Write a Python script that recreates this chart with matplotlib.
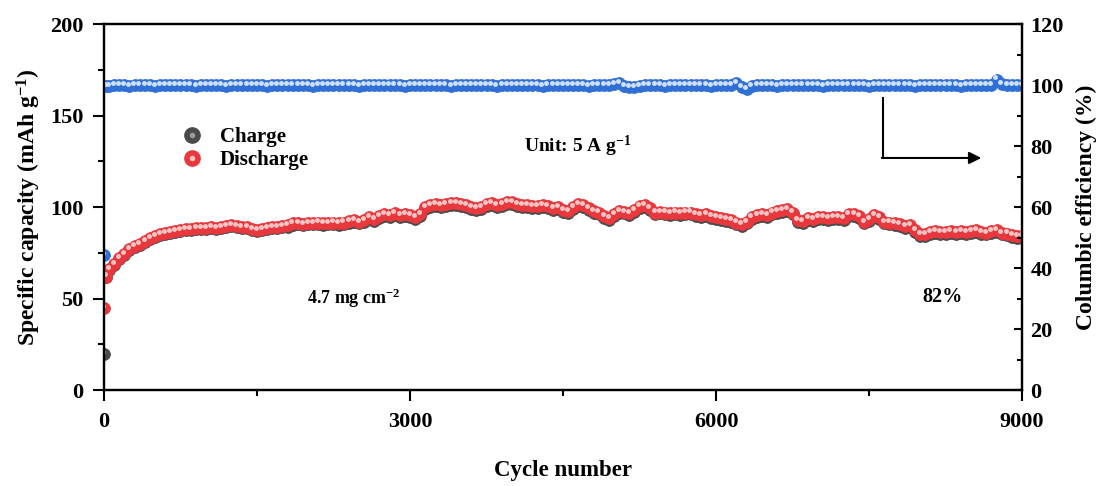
import numpy as np
import matplotlib
matplotlib.use("Agg")
import matplotlib.pyplot as plt
from matplotlib.lines import Line2D
from matplotlib.legend_handler import HandlerTuple
from matplotlib.ticker import MultipleLocator
from matplotlib.transforms import ScaledTranslation

plt.rcParams['font.family'] = ['Liberation Serif', 'DejaVu Serif']
plt.rcParams['font.weight'] = 'bold'
plt.rcParams['mathtext.fontset'] = 'custom'
plt.rcParams['mathtext.rm'] = 'Liberation Serif:bold'
plt.rcParams['mathtext.it'] = 'Liberation Serif:bold'
plt.rcParams['mathtext.bf'] = 'Liberation Serif:bold'

#%%
# data (first two cycles, then every 50 cycles)
first_cycles = [1, 20]
cycles = np.concatenate([first_cycles, np.arange(50, 9001, 50)])

discharge = [44.8, 62.0,
    66.0, 69.0, 72.0, 74.5, 77.0, 78.5, 80.0, 81.5, 83.0, 84.0,
    85.0, 86.0, 86.5, 87.0, 87.5, 88.0, 88.0, 88.5, 88.5, 88.5,
    89.0, 88.5, 89.0, 89.5, 90.0, 89.5, 89.0, 89.0, 88.0, 87.5,
    88.0, 88.5, 89.0, 89.0, 89.5, 90.0, 91.0, 91.0, 90.5, 91.0,
    91.0, 91.5, 91.0, 91.0, 91.5, 91.0, 91.5, 92.5, 93.0, 92.0,
    93.0, 94.5, 93.5, 95.0, 96.0, 95.5, 96.5, 95.5, 96.0, 95.5,
    94.5, 96.0, 100.0, 101.0, 101.5, 101.0, 101.5, 102.0, 102.0, 101.5,
    101.0, 100.0, 99.5, 100.0, 101.5, 102.0, 101.0, 101.5, 102.5, 102.5,
    101.5, 101.0, 101.0, 100.5, 100.5, 101.0, 100.5, 99.5, 100.0, 98.5,
    98.0, 100.0, 101.5, 101.0, 99.5, 98.0, 97.0, 95.0, 94.0, 96.0,
    98.0, 97.5, 96.5, 98.5, 100.5, 101.0, 99.5, 97.0, 97.5, 97.0,
    96.5, 97.0, 96.5, 97.0, 97.0, 96.0, 95.5, 96.0, 95.0, 94.5,
    94.0, 93.5, 93.0, 91.5, 90.5, 92.0, 94.5, 95.5, 96.0, 95.5,
    97.0, 98.0, 98.5, 99.0, 97.0, 93.0, 92.5, 94.0, 93.5, 94.5,
    94.5, 94.0, 94.5, 94.5, 94.0, 96.0, 96.0, 95.0, 92.0, 93.5,
    95.5, 94.5, 92.0, 91.5, 91.0, 90.5, 89.5, 90.0, 87.5, 85.0,
    85.0, 86.5, 87.0, 86.5, 86.5, 87.0, 86.5, 87.0, 86.5, 87.0,
    87.5, 86.5, 86.0, 87.0, 87.5, 86.0, 85.5, 84.5, 84.0, 84.0]

charge = [19.5, 61.5,
    65.5, 68.5, 71.5, 74.0, 76.5, 78.0, 79.5, 81.0, 82.5, 83.5,
    84.5, 85.5, 86.0, 86.5, 87.0, 87.5, 87.5, 88.0, 88.0, 88.0,
    88.5, 88.0, 88.5, 89.0, 89.5, 89.0, 88.5, 88.5, 87.5, 87.0,
    87.5, 88.0, 88.5, 88.5, 89.0, 89.0, 90.0, 90.5, 90.0, 90.5,
    90.5, 90.5, 90.0, 90.5, 90.5, 90.0, 90.5, 91.5, 92.0, 91.0,
    92.0, 93.5, 92.5, 94.0, 95.0, 94.5, 95.5, 94.5, 95.0, 94.5,
    93.5, 95.0, 99.0, 100.0, 100.5, 100.0, 100.5, 101.0, 101.0, 100.5,
    100.0, 99.0, 98.5, 99.0, 100.5, 101.0, 100.0, 100.5, 101.5, 101.5,
    100.5, 100.0, 100.0, 99.5, 99.5, 100.0, 99.5, 98.5, 99.0, 97.5,
    97.0, 99.0, 100.5, 100.0, 98.5, 97.0, 96.0, 94.0, 93.0, 95.0,
    97.0, 96.5, 95.5, 97.5, 99.5, 100.0, 98.5, 96.0, 96.5, 96.0,
    95.5, 96.0, 95.5, 96.0, 96.0, 95.0, 94.5, 95.0, 94.0, 93.5,
    93.0, 92.5, 92.0, 90.5, 89.5, 91.0, 93.5, 94.5, 95.0, 94.5,
    96.0, 97.0, 97.5, 98.0, 96.0, 92.0, 91.5, 93.0, 92.5, 93.5,
    93.5, 93.0, 93.5, 93.5, 93.0, 95.0, 95.0, 94.0, 91.0, 92.5,
    94.5, 93.5, 91.0, 90.5, 90.0, 89.5, 88.5, 89.0, 86.5, 84.0,
    84.0, 85.5, 86.0, 85.5, 85.5, 86.0, 85.5, 86.0, 85.5, 86.0,
    86.5, 85.5, 85.0, 86.0, 86.5, 85.0, 84.5, 83.5, 83.0, 83.0]

efficiency = [44.2, 99.6,
    99.8, 100.0, 99.9, 100.1, 99.8, 100.0, 100.1, 99.9, 100.0, 99.8,
    100.0, 100.1, 99.9, 100.0, 99.9, 100.1, 100.0, 99.8, 100.0, 100.1,
    99.9, 100.0, 100.0, 99.8, 100.1, 100.0, 99.9, 100.0, 100.1, 99.9,
    100.0, 99.8, 100.0, 100.1, 99.9, 100.0, 100.0, 99.9, 100.1, 100.0,
    99.8, 100.0, 100.1, 99.9, 100.0, 100.0, 99.9, 100.1, 100.0, 99.8,
    100.0, 100.1, 99.9, 100.0, 100.0, 99.9, 100.1, 100.0, 99.8, 100.0,
    100.1, 99.9, 100.0, 100.0, 99.9, 100.1, 100.0, 99.8, 100.0, 100.1,
    99.9, 100.0, 100.0, 99.9, 100.1, 100.0, 99.8, 100.0, 100.1, 99.9,
    100.0, 100.0, 99.9, 100.1, 100.0, 99.8, 100.0, 100.1, 99.9, 100.0,
    100.0, 99.9, 100.1, 100.0, 99.8, 100.0, 100.1, 99.9, 100.0, 100.3,
    100.6, 99.6, 99.2, 99.4, 99.8, 100.0, 99.9, 100.1, 100.0, 99.8,
    100.0, 100.1, 99.9, 100.0, 100.0, 99.9, 100.1, 100.0, 99.8, 100.0,
    100.1, 99.9, 100.0, 100.5, 99.3, 98.6, 99.6, 100.0, 99.9, 100.1,
    100.0, 99.8, 100.0, 100.1, 99.9, 100.0, 100.0, 99.9, 100.1, 100.0,
    99.8, 100.0, 100.1, 99.9, 100.0, 100.0, 99.9, 100.1, 100.0, 99.8,
    100.0, 100.1, 99.9, 100.0, 100.0, 99.9, 100.1, 100.0, 99.8, 100.0,
    100.1, 99.9, 100.0, 100.0, 99.9, 100.1, 100.0, 99.8, 100.0, 100.1,
    99.9, 100.0, 100.0, 99.9, 101.8, 100.4, 99.9, 100.0, 100.1, 100.0]

#%%
fig = plt.figure(figsize=(10.99, 4.86), dpi=100)
ax = fig.add_axes([0.0946, 0.1975, 0.8354, 0.7531])
ax2 = ax.twinx()

def balls(axis, x, y, face, light, size=8.5, z=2):
    # Origin-style shaded spheres: base disc plus a small offset highlight
    axis.plot(x, y, 'o', ms=size, mfc=face, mec=face, mew=0.6, ls='none', zorder=z)
    shift = axis.transData + ScaledTranslation(-0.9 / 72, 1.5 / 72, fig.dpi_scale_trans)
    axis.plot(x, y, 'o', ms=size * 0.42, mfc=light, mec='none', ls='none',
              transform=shift, zorder=z)

balls(ax, cycles, charge, '#4a4a4a', '#9a9a9a', z=2)
balls(ax, cycles, discharge, '#e8383d', '#f7c4c4', z=3)
balls(ax2, cycles, efficiency, '#2f6fd6', '#cfe0f7', z=2)

ax.set_xlim(0, 9000)
ax.set_ylim(0, 200)
ax2.set_ylim(0, 120)

ax.xaxis.set_major_locator(MultipleLocator(3000))
ax.xaxis.set_minor_locator(MultipleLocator(1500))
ax.yaxis.set_major_locator(MultipleLocator(50))
ax.yaxis.set_minor_locator(MultipleLocator(25))
ax2.yaxis.set_major_locator(MultipleLocator(20))
ax2.yaxis.set_minor_locator(MultipleLocator(10))

ax.tick_params(axis='both', which='major', direction='out', length=8, width=1.5,
               labelsize=16, pad=7)
ax.tick_params(axis='both', which='minor', direction='out', length=4.5, width=1.5)
ax.tick_params(axis='x', which='major', pad=8)
ax.tick_params(top=False, right=False, which='both')
ax2.tick_params(axis='y', which='major', direction='in', length=6, width=1.5,
                labelsize=16, pad=6)
ax2.tick_params(axis='y', which='minor', direction='in', length=3.5, width=1.5)
for a in (ax, ax2):
    for s in a.spines.values():
        s.set_linewidth(1.6)
    for lab in a.get_xticklabels() + a.get_yticklabels():
        lab.set_fontweight('bold')

ax.set_xlabel('Cycle number', fontsize=16.5, fontweight='bold', labelpad=20)
ax.set_ylabel(r'Specific capacity (mAh g$^{-1}$)', fontsize=17, fontweight='bold',
              labelpad=5)
ax2.set_ylabel('Columbic efficiency (%)', fontsize=17, fontweight='bold', labelpad=9)

# legend with sphere-like handles
h_c = (Line2D([], [], marker='o', ls='none', ms=11, mfc='#4a4a4a', mec='#4a4a4a'),
       Line2D([], [], marker='o', ls='none', ms=4, mfc='#9a9a9a', mec='none'))
h_d = (Line2D([], [], marker='o', ls='none', ms=11, mfc='#e8383d', mec='#e8383d'),
       Line2D([], [], marker='o', ls='none', ms=4, mfc='#f7c4c4', mec='none'))
ax.legend([h_c, h_d], ['Charge', 'Discharge'], handler_map={tuple: HandlerTuple(ndivide=1)},
          frameon=False, loc='upper left', bbox_to_anchor=(0.058, 0.77),
          prop={'weight': 'bold', 'size': 15}, handletextpad=0.6, labelspacing=0.15,
          handlelength=1.5)

ax.text(0.458, 0.665, r'Unit: 5 A g$^{-1}$', transform=ax.transAxes, fontsize=14,
        fontweight='bold', ha='left', va='center')
ax.text(0.221, 0.25, r'4.7 mg cm$^{-2}$', transform=ax.transAxes, fontsize=13,
        fontweight='bold', ha='left', va='center')
ax.text(0.891, 0.255, '82%', transform=ax.transAxes, fontsize=14.5,
        fontweight='bold', ha='left', va='center')

# arrow pointing to the right axis
ax.plot([7637, 7637], [159.6, 126.8], color='black', lw=1.5)
ax.annotate('', xy=(8600, 126.8), xytext=(7625, 126.8),
            arrowprops=dict(arrowstyle='-|>', color='black', lw=1.5,
                            mutation_scale=18, shrinkA=0, shrinkB=0))

fig.savefig('out.png', dpi=100)
